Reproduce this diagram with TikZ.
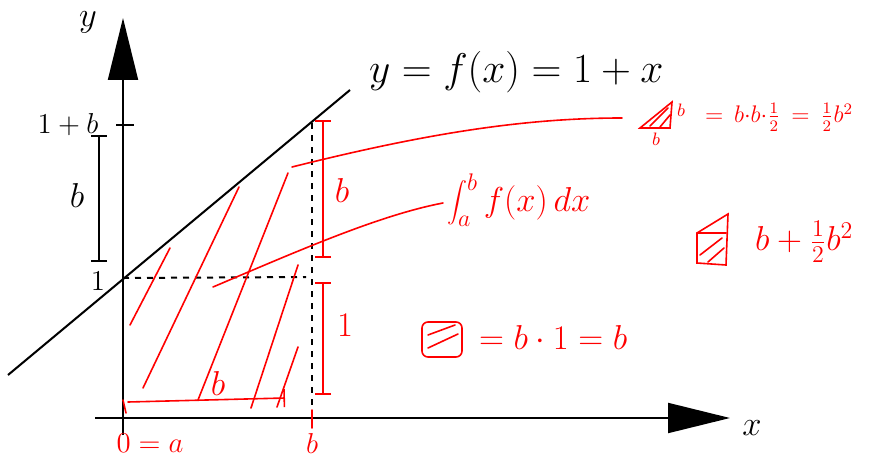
\documentclass[tikz,border=0pt]{standalone}
\usetikzlibrary{arrows.meta}
\begin{document}
\begin{tikzpicture} [x=0.5pt,y=-0.5pt,
  pen/.style={line width=1pt},
  redpen/.style={red, line width=0.8pt, line cap=round},
  bracket/.style={arrows={Bar[width=8pt]-Bar[width=8pt]}},
  axis/.style={pen, -{Triangle[length=31pt,width=15pt]}}]
\useasboundingbox (0,0) rectangle (872,460);

\coordinate (O) at (123,418);
\coordinate (B) at (312,418);

\draw [axis] (95,418) -- (730,418);
\draw [axis] (123,435) -- (123,18);
\node (xlab) at (752,428) {\LARGE $x$};
\node (ylab) at (88,22) {\LARGE $y$};

\draw [pen] (8,375) -- (350,90);
\node (fx) [anchor=west] at (362,72) {\huge $y = f(x) = 1+x$};

\draw [pen] (116,125) -- (134,125);
\node (onepb) at (68,125) {\Large $1+b$};
\node (one) at (98,281) {\Large $1$};
\draw [pen, bracket] (99,135) -- (99,262);
\node (hb) at (77,195) {\LARGE $b$};

\draw [pen, dashed] (123,278) -- (306,277);
\draw [pen, dashed] (312,123) -- (B);

\draw [redpen, bracket] (323,120) -- (323,258);
\draw [redpen, bracket] (323,282) -- (323,395);
\node (rb) [red] at (342,190) {\LARGE $b$};
\node (rone) [red] at (345,325) {\LARGE $1$};

\draw [redpen] (312,410) -- (312,428);
\draw [redpen] (123,400) -- (126,413);
\node (xb) [red] at (312,443) {\Large $b$};
\node (xa) [red] at (150,443) {\Large $0=a$};

\draw [redpen, arrows={-Bar[width=9pt]}] (128,402) -- (285,398);
\node (wb) [red] at (218,383) {\LARGE $b$};

\foreach \a/\b/\c/\d in {130/325/170/248, 143/388/239/187, 198/400/288/173,
                         251/408/298/265, 277/407/298/347}
  \draw [redpen] (\a,\b) -- (\c,\d);

\draw [redpen] (292,167) .. controls (420,135) and (520,118) .. (622,118);
\draw [redpen] (213,287) .. controls (300,250) and (380,215) .. (443,203);
\node (int) [red, anchor=west] at (440,200) {\LARGE $\displaystyle\int_a^b f(x)\,dx$};

% triangle
\draw [redpen] (640,128) -- (672,102) -- (670,128) -- cycle;
\draw [redpen] (650,126) -- (668,108);
\draw [redpen] (660,127) -- (670,115);
\node (tb) [red] at (681,110) {\small $b$};
\node (tb2) [red] at (656,139) {\small $b$};
\node (tri) [red, anchor=west] at (698,117) {\large $=\,b{\cdot}b{\cdot}\frac12\,=\,\frac12b^2$};

% trapezoid
\draw [redpen] (697,233) -- (728,214) -- (726,265) -- (697,263) -- cycle;
\draw [redpen] (697,233) -- (726,233);
\draw [redpen] (700,255) -- (722,238);
\draw [redpen] (708,262) -- (724,248);
\node (trap) [red, anchor=west] at (748,242) {\LARGE $b + \frac12 b^2$};

% rectangle
\draw [redpen, rounded corners=3pt] (422,322) rectangle (462,357);
\draw [redpen] (428,335) -- (455,325);
\draw [redpen] (428,348) -- (458,334);
\node (rect) [red, anchor=west] at (472,337) {\LARGE $= b\cdot 1 = b$};
\end{tikzpicture}
\end{document}
